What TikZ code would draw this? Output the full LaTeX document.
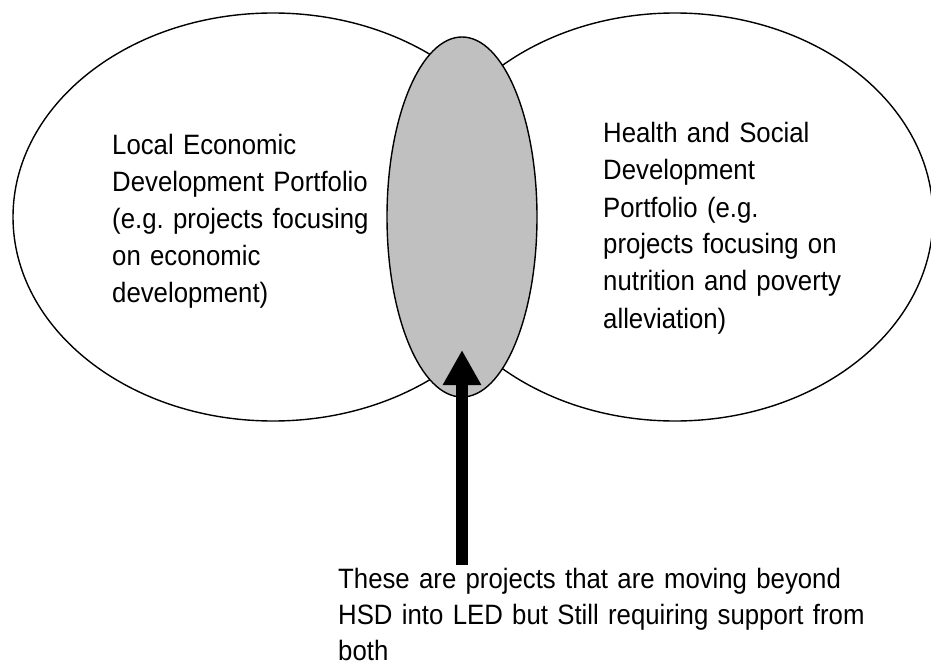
\documentclass[tikz,border=0pt]{standalone}
\usepackage{fontspec}
\setmainfont{Liberation Sans}[FakeStretch=0.92]
\frenchspacing
\usetikzlibrary{shapes.geometric,arrows.meta}
\definecolor{lensgray}{HTML}{C0C0C0}
\tikzset{
  portfolio/.style={ellipse, draw=black, line width=1.4pt, fill=white, inner sep=0pt},
  overlap/.style={ellipse, draw=black, line width=1.4pt, fill=lensgray, inner sep=0pt,
                  minimum width=150pt, minimum height=360pt},
  label/.style={anchor=base west, inner sep=0pt, align=left, text width=#1,
                font=\fontsize{28}{37}\selectfont},
  bigarrow/.style={line width=12pt, -{Triangle[width=36pt,length=35pt]}, black}
}
\begin{document}
\begin{tikzpicture}[x=1pt,y=-1pt]
\useasboundingbox (0,0) rectangle (931,671);
\node[portfolio, minimum width=520pt, minimum height=408pt] (led) at (273,217) {};
\node[portfolio, minimum width=516pt, minimum height=408pt] (hsd) at (675,217) {};
\node[overlap] (both) at (462,217) {};
\node[label=300pt] (ledtext) at (112,155) {Local Economic\\Development Portfolio\\(e.g. projects focusing\\on economic\\development)};
\node[label=300pt] (hsdtext) at (603,143) {Health and Social\\Development\\Portfolio (e.g.\\projects focusing on\\nutrition and poverty\\alleviation)};
\node[label=580pt, font=\fontsize{28}{36}\selectfont] (note) at (338,588) {These are projects that are moving beyond\\HSD into LED but Still requiring support from\\both};
\coordinate (arrowfoot) at (462,565);
\coordinate (arrowtip) at (462,350);
\draw[bigarrow] (arrowfoot) -- (arrowtip);
\end{tikzpicture}
\end{document}
